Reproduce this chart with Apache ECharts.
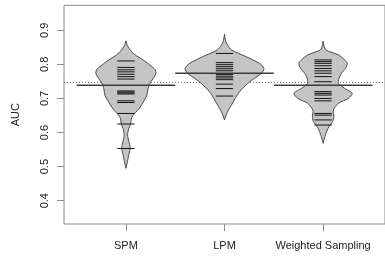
<!DOCTYPE html>
<html>
<head>
<meta charset="utf-8">
<script src="https://cdn.jsdelivr.net/npm/echarts@6/dist/echarts.min.js"></script>
<style>html,body{margin:0;padding:0;background:#fff}#c{width:385px;height:257px}</style>
</head>
<body>
<div id="c"></div>
<script>
// ---- data ----
var categories = ['SPM', 'LPM', 'Weighted Sampling'];
var yTicks = [0.4, 0.5, 0.6, 0.7, 0.8, 0.9];
var spmValues = [0.810, 0.791, 0.784, 0.778, 0.771, 0.764, 0.757, 0.722, 0.719, 0.716, 0.713, 0.693, 0.688, 0.656, 0.625, 0.553];
var lpmValues = [0.832, 0.805, 0.799, 0.793, 0.787, 0.781, 0.770, 0.765, 0.760, 0.755, 0.742, 0.729, 0.707];
var wsValues = [0.813, 0.808, 0.803, 0.796, 0.788, 0.781, 0.774, 0.764, 0.749, 0.720, 0.715, 0.710, 0.700, 0.693, 0.656, 0.651, 0.637, 0.622];
var beanMeans = [0.739, 0.774, 0.739];
var overallMean = 0.747;
// density profiles: [AUC value, relative density]
var spmDensity = [[0.869,0],[0.855,0.037],[0.837,0.148],[0.825,0.27],[0.813,0.436],[0.795,0.64],[0.785,0.74],[0.775,0.764],[0.765,0.727],[0.750,0.64],[0.740,0.59],[0.725,0.554],[0.710,0.534],[0.695,0.468],[0.681,0.394],[0.667,0.313],[0.652,0.19],[0.640,0.135],[0.627,0.123],[0.612,0.074],[0.593,0.042],[0.574,0.074],[0.554,0.11],[0.535,0.074],[0.514,0.037],[0.495,0]];
var lpmDensity = [[0.889,0],[0.870,0.025],[0.857,0.074],[0.842,0.185],[0.823,0.542],[0.803,0.887],[0.788,1.0],[0.774,0.943],[0.769,0.887],[0.749,0.64],[0.725,0.419],[0.705,0.296],[0.695,0.246],[0.680,0.172],[0.666,0.1],[0.650,0.037],[0.637,0]];
var wsDensity = [[0.868,0],[0.855,0.02],[0.842,0.074],[0.828,0.387],[0.813,0.55],[0.803,0.616],[0.788,0.567],[0.774,0.468],[0.756,0.394],[0.744,0.394],[0.730,0.542],[0.715,0.739],[0.700,0.64],[0.686,0.394],[0.666,0.259],[0.647,0.271],[0.632,0.246],[0.617,0.148],[0.598,0.074],[0.580,0.025],[0.568,0]];

var beanValues = [spmValues, lpmValues, wsValues];
var beanDensity = [spmDensity, lpmDensity, wsDensity];

var MAXHALF = 0.4;   // half of max bean width (axis units)
var LINEHALF = 0.088; // half length of bean lines
var MEANHALF = 0.5;

var chart = echarts.init(document.getElementById('c'), null, {renderer: 'canvas'});
var font = 'Liberation Sans, Arial, sans-serif';

chart.setOption({
  animation: false,
  grid: {left: 64, top: 5.3, width: 330.4, height: 218.7, show: true, borderColor: '#8a8a8a', borderWidth: 1, backgroundColor: 'transparent'},
  xAxis: {
    type: 'value', min: 0.372, max: 3.628,
    axisLine: {show: false},
    splitLine: {show: false},
    axisTick: {show: true, customValues: [1, 2, 3], length: 7, lineStyle: {color: '#8a8a8a'}},
    axisLabel: {customValues: [1, 2, 3], formatter: function (v) { return categories[Math.round(v) - 1]; },
      fontSize: 11, color: '#222', fontFamily: font, margin: 16}
  },
  yAxis: {
    type: 'value', min: 0.3316, max: 0.9733,
    name: 'AUC', nameLocation: 'middle', nameRotate: 90, nameGap: 43,
    nameTextStyle: {fontSize: 11, color: '#222', fontFamily: font},
    axisLine: {show: false},
    splitLine: {show: false},
    axisTick: {show: true, customValues: yTicks, length: 7, lineStyle: {color: '#8a8a8a'}},
    axisLabel: {customValues: yTicks, rotate: 90, formatter: function (v) { return v.toFixed(1); },
      fontSize: 11, color: '#222', fontFamily: font, margin: 14}
  },
  series: [
    {
      type: 'custom', z: 1, silent: true,
      data: [[overallMean]],
      renderItem: function (params, api) {
        var cs = params.coordSys;
        var y = api.coord([1, api.value(0)])[1];
        return {type: 'line', shape: {x1: cs.x, y1: y, x2: cs.x + cs.width, y2: y},
          style: {stroke: '#6a6a6a', lineWidth: 0.9, lineDash: [1, 2]}};
      }
    },
    {
      type: 'custom', z: 2, silent: true,
      data: categories.map(function (c, i) { return [i + 1, beanMeans[i]]; }),
      renderItem: function (params, api) {
        var i = params.dataIndex;
        var cx = api.value(0);
        var dens = beanDensity[i];
        var pts = [];
        dens.forEach(function (p) { pts.push(api.coord([cx + p[1] * MAXHALF, p[0]])); });
        for (var k = dens.length - 1; k >= 0; k--) pts.push(api.coord([cx - dens[k][1] * MAXHALF, dens[k][0]]));
        var children = [{type: 'polygon', shape: {points: pts, smooth: 0.25},
          style: {fill: '#c4c4c4', stroke: '#3a3a3a', lineWidth: 0.9}}];
        beanValues[i].forEach(function (v) {
          var a = api.coord([cx - LINEHALF, v]), b = api.coord([cx + LINEHALF, v]);
          children.push({type: 'line', shape: {x1: a[0], y1: a[1], x2: b[0], y2: b[1]},
            style: {stroke: '#111', lineWidth: 1}});
        });
        var m1 = api.coord([cx - MEANHALF, api.value(1)]), m2 = api.coord([cx + MEANHALF, api.value(1)]);
        children.push({type: 'line', shape: {x1: m1[0], y1: m1[1], x2: m2[0], y2: m2[1]},
          style: {stroke: '#3c3c3c', lineWidth: 1.5}});
        return {type: 'group', children: children};
      }
    }
  ]
});
</script>
</body>
</html>
